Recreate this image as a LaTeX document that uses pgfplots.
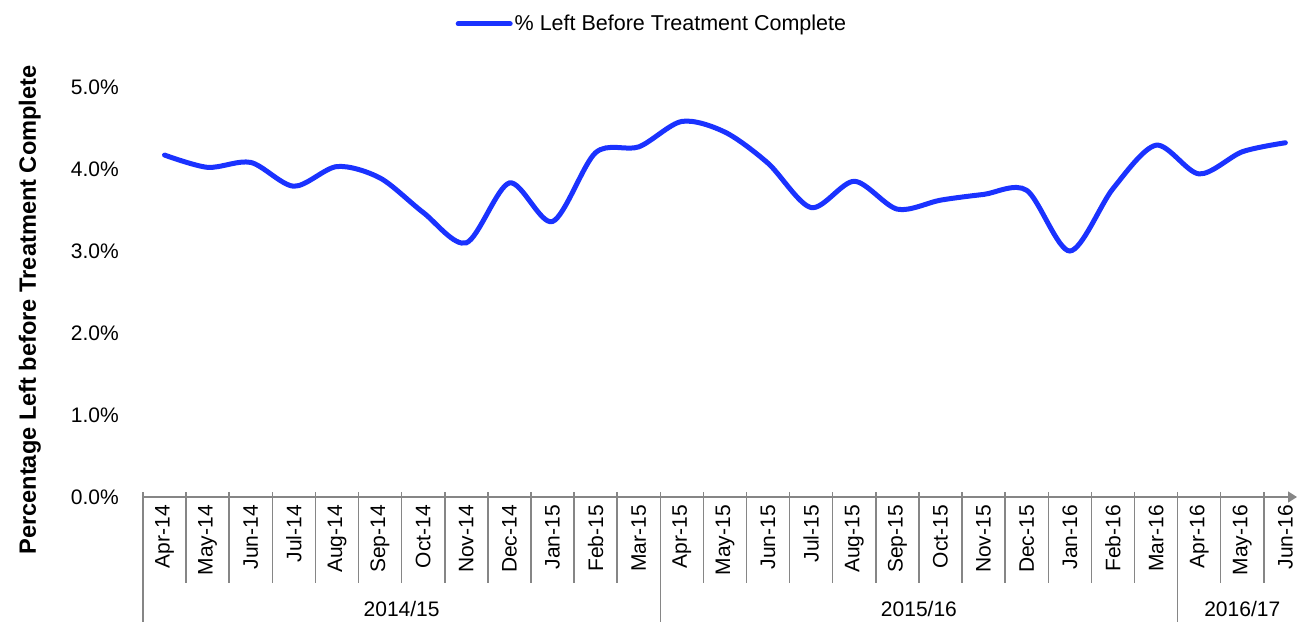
\documentclass[border=0pt]{standalone}
\usepackage{fontspec}
\setmainfont{Liberation Sans}
\usepackage{pgfplots}
\pgfplotsset{compat=1.18}
\usetikzlibrary{arrows.meta}
\definecolor{lineblue}{RGB}{26,50,255}
\definecolor{axgray}{RGB}{134,134,134}
\begin{document}
\begin{tikzpicture}
\path[use as bounding box] (-143pt,-124pt) rectangle (1155pt,497pt);
\begin{axis}[
  at={(0pt,0pt)}, anchor=south west,
  scale only axis, width=1154pt, height=410pt,
  xmin=-0.5, xmax=26.27, ymin=0, ymax=5,
  axis x line=bottom, axis y line=left,
  y axis line style={draw=none},
  x axis line style={axgray, line width=1.5pt, -{Triangle[length=9pt,width=11pt]}},
  ytick={0,1,2,3,4,5},
  yticklabels={0.0\%,1.0\%,2.0\%,3.0\%,4.0\%,5.0\%},
  ytick style={draw=none},
  xtick={0,...,26},
  xticklabels={Apr-14,May-14,Jun-14,Jul-14,Aug-14,Sep-14,Oct-14,Nov-14,Dec-14,Jan-15,Feb-15,Mar-15,Apr-15,May-15,Jun-15,Jul-15,Aug-15,Sep-15,Oct-15,Nov-15,Dec-15,Jan-16,Feb-16,Mar-16,Apr-16,May-16,Jun-16},
  xtick style={draw=none},
  major tick length=0pt,
  tick label style={font=\fontsize{21}{25}\selectfont},
  xticklabel style={rotate=90, anchor=east, inner ysep=0pt, inner xsep=8pt},
  yticklabel style={anchor=east, inner sep=0pt, xshift=-24pt},
  ylabel={Percentage Left before Treatment Complete},
  ylabel style={font=\bfseries\fontsize{23.6}{28}\selectfont, at={(axis description cs:-0.098,0.456)}, anchor=center},
  legend style={at={(axis description cs:0.441,1.154)}, anchor=center, draw=none, fill=none, font=\fontsize{21.5}{25}\selectfont, legend cell align=left},
  legend image code/.code={\draw[#1] (-6pt,0pt) -- (46pt,0pt);},
  clip=false,
]
\addplot[lineblue, line width=5pt, smooth, line cap=round] coordinates {
(0,4.17) (1,4.02) (2,4.08) (3,3.79) (4,4.03) (5,3.89) (6,3.47) (7,3.10) (8,3.83)
(9,3.36) (10,4.20) (11,4.27) (12,4.58) (13,4.45) (14,4.07) (15,3.53) (16,3.85)
(17,3.51) (18,3.62) (19,3.69) (20,3.74) (21,3.00) (22,3.76) (23,4.29) (24,3.94)
(25,4.21) (26,4.32)};
\addlegendentry{\% Left Before Treatment Complete}
\pgfplotsinvokeforeach{0.5,1.5,...,10.5,12.5,13.5,...,22.5,24.5,25.5}{
  \draw[axgray, line width=1.5pt] (axis cs:#1,0) ++(0pt,5pt) -- ++(0pt,-91pt);
}
\pgfplotsinvokeforeach{-0.5,11.5,23.5}{
  \draw[axgray, line width=1.5pt] (axis cs:#1,0) ++(0pt,5pt) -- ++(0pt,-130pt);
}
\node[font=\fontsize{21}{25}\selectfont] at (axis cs:5.5,0) [yshift=-112pt] {2014/15};
\node[font=\fontsize{21}{25}\selectfont] at (axis cs:17.5,0) [yshift=-112pt] {2015/16};
\node[font=\fontsize{21}{25}\selectfont] at (axis cs:25,0) [yshift=-112pt] {2016/17};
\end{axis}
\end{tikzpicture}
\end{document}
